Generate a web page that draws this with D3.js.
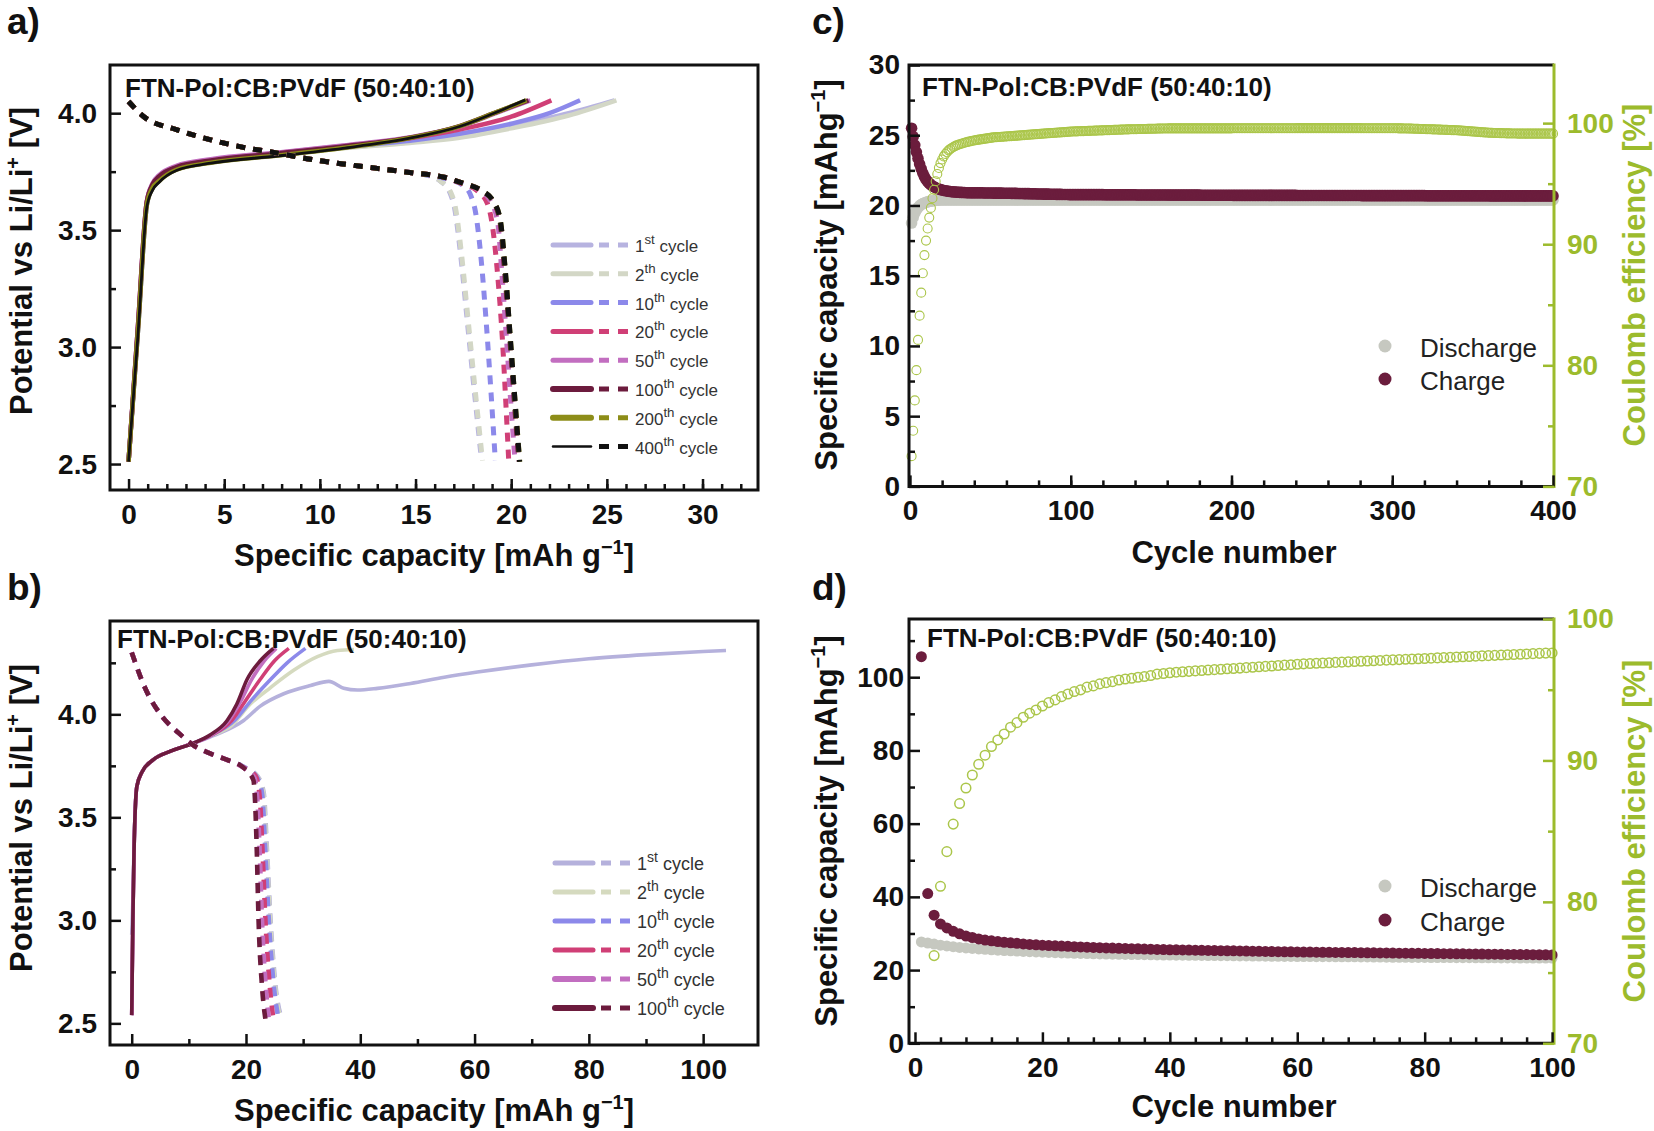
<!DOCTYPE html>
<html>
<head>
<meta charset="utf-8">
<script src="https://cdn.jsdelivr.net/npm/d3@7"></script>
<style>
  body { margin: 0; background: #fff; }
</style>
</head>
<body>
<svg id="fig" width="1654" height="1131"></svg>
<script>
// ---------- panel a / b : cycle legends ----------
const cycleNumA = ["1", "2", "10", "20", "50", "100", "200", "400"];
const cycleSupA = ["st", "th", "th", "th", "th", "th", "th", "th"];
const cycleColA = ["#b7b3e0", "#d3d7c6", "#8c89ea", "#d03f76", "#c26ec0", "#6c1b3d", "#8d8d18", "#111111"];

const cycleNumB = ["1", "2", "10", "20", "50", "100"];
const cycleSupB = ["st", "th", "th", "th", "th", "th"];
const cycleColB = ["#b5b1dc", "#d5dabf", "#8c89ea", "#d03f76", "#c26ec0", "#6c1b3d"];

// ---------- panel a : [capacity, potential] ----------
const chargeA = [
  [[0,2.51],[0.5,3.08],[0.96,3.61],[1.25,3.68],[1.6,3.715],[2.5,3.76],[4.3,3.79],[7.8,3.822],[11.2,3.852],[14.7,3.876],[17.3,3.9],[20,3.945],[23,4.0],[25.4,4.055]],
  [[0,2.51],[0.5,3.08],[0.96,3.61],[1.25,3.68],[1.6,3.715],[2.5,3.76],[4.3,3.79],[7.8,3.822],[11.2,3.85],[14.7,3.873],[17.3,3.895],[20,3.935],[23,3.99],[25.5,4.055]],
  [[0,2.51],[0.5,3.08],[0.96,3.61],[1.25,3.685],[1.6,3.72],[2.5,3.765],[4.3,3.795],[7.8,3.826],[11.2,3.855],[14.7,3.882],[17.3,3.912],[20,3.955],[22,4.0],[23.6,4.055]],
  [[0,2.51],[0.5,3.1],[0.95,3.62],[1.25,3.695],[1.6,3.73],[2.5,3.772],[4.3,3.8],[7.8,3.83],[11.2,3.86],[14.7,3.893],[17.3,3.93],[20,3.985],[22.1,4.055]],
  [[0,2.51],[0.5,3.1],[0.95,3.62],[1.25,3.7],[1.6,3.735],[2.5,3.775],[4.3,3.803],[7.8,3.832],[11.2,3.862],[14.7,3.897],[17.3,3.943],[19.2,4.0],[21.0,4.055]],
  [[0,2.51],[0.5,3.1],[0.95,3.62],[1.25,3.695],[1.6,3.73],[2.5,3.77],[4.3,3.798],[7.8,3.828],[11.2,3.858],[14.7,3.895],[17.3,3.945],[19.1,4.0],[20.9,4.055]],
  [[0,2.51],[0.5,3.08],[0.96,3.61],[1.25,3.68],[1.6,3.71],[2.5,3.758],[4.3,3.788],[7.8,3.819],[11.2,3.851],[14.7,3.894],[17.3,3.944],[19.1,4.0],[20.8,4.055]],
  [[0,2.51],[0.5,3.06],[0.96,3.6],[1.25,3.67],[1.6,3.705],[2.5,3.755],[4.3,3.786],[7.8,3.817],[11.2,3.85],[14.7,3.893],[17.3,3.943],[19.1,4.0],[20.74,4.057]]
];
const dischargeA = [
  [[0,4.05],[0.8,3.985],[2.5,3.93],[4.3,3.886],[6,3.854],[7.8,3.829],[9.5,3.803],[11.2,3.783],[13,3.764],[14.7,3.746],[15.6,3.735],[16.3,3.71],[16.8,3.66],[17.05,3.59],[17.35,3.4],[17.7,3.115],[18.05,2.83],[18.45,2.515]],
  [[0,4.05],[0.8,3.985],[2.5,3.93],[4.3,3.886],[6,3.854],[7.8,3.829],[9.5,3.803],[11.2,3.783],[13,3.764],[14.7,3.746],[15.6,3.735],[16.3,3.71],[16.85,3.66],[17.1,3.59],[17.4,3.4],[17.75,3.115],[18.1,2.83],[18.5,2.515]],
  [[0,4.05],[0.8,3.985],[2.5,3.93],[4.3,3.886],[6,3.854],[7.8,3.829],[9.5,3.803],[11.2,3.783],[13,3.764],[14.7,3.746],[15.8,3.733],[16.8,3.715],[17.5,3.69],[17.9,3.645],[18.15,3.57],[18.4,3.4],[18.7,3.1],[18.95,2.8],[19.17,2.515]],
  [[0,4.05],[0.8,3.985],[2.5,3.93],[4.3,3.886],[6,3.854],[7.8,3.829],[9.5,3.803],[11.2,3.783],[13,3.764],[14.7,3.746],[16.5,3.726],[17.4,3.7],[18.2,3.67],[18.75,3.615],[19.05,3.5],[19.3,3.3],[19.55,3.02],[19.72,2.76],[19.87,2.515]],
  [[0,4.05],[0.8,3.985],[2.5,3.93],[4.3,3.886],[6,3.854],[7.8,3.829],[9.5,3.803],[11.2,3.783],[13,3.764],[14.7,3.746],[16.5,3.726],[17.5,3.7],[18.3,3.672],[18.95,3.62],[19.3,3.53],[19.5,3.33],[19.75,3.04],[19.98,2.76],[20.2,2.515]],
  [[0,4.05],[0.8,3.985],[2.5,3.93],[4.3,3.886],[6,3.854],[7.8,3.829],[9.5,3.803],[11.2,3.783],[13,3.764],[14.7,3.746],[16.5,3.726],[17.5,3.7],[18.4,3.672],[19.05,3.622],[19.4,3.543],[19.65,3.33],[19.92,3.044],[20.17,2.76],[20.4,2.512]],
  [[0,4.05],[0.8,3.985],[2.5,3.93],[4.3,3.886],[6,3.854],[7.8,3.829],[9.5,3.803],[11.2,3.783],[13,3.764],[14.7,3.746],[16.5,3.726],[17.5,3.7],[18.4,3.672],[19.08,3.622],[19.43,3.543],[19.69,3.33],[19.95,3.044],[20.21,2.76],[20.45,2.51]],
  [[0,4.05],[0.8,3.985],[2.5,3.93],[4.3,3.886],[6,3.854],[7.8,3.829],[9.5,3.803],[11.2,3.783],[13,3.764],[14.7,3.746],[16.5,3.726],[17.5,3.7],[18.4,3.672],[19.08,3.622],[19.43,3.543],[19.69,3.33],[19.95,3.044],[20.21,2.76],[20.44,2.51]]
];

// ---------- panel b : [capacity, potential] ----------
const chargeB = [
  [[0,2.93],[0.2,3.1],[0.4,3.35],[0.9,3.65],[1.8,3.72],[3.8,3.78],[6.7,3.82],[10.8,3.86],[13.7,3.89],[15.5,3.91],[19.6,3.97],[22.5,4.04],[26.6,4.1],[31.3,4.14],[34.5,4.16],[37.1,4.127],[39.5,4.118],[43,4.126],[48.8,4.15],[54.7,4.18],[60.5,4.205],[70,4.24],[80,4.27],[90,4.29],[100,4.305],[104,4.31]],
  [[0,2.54],[0.2,3.0],[0.4,3.33],[0.9,3.65],[1.8,3.72],[3.8,3.78],[6.7,3.82],[10.8,3.86],[13.7,3.895],[15.5,3.915],[17.2,3.94],[20.75,4.05],[24.3,4.13],[28.4,4.215],[32.5,4.28],[36,4.31],[38.9,4.315]],
  [[0,2.54],[0.2,3.0],[0.4,3.33],[0.9,3.65],[1.8,3.72],[3.8,3.78],[6.7,3.82],[10.8,3.86],[13.7,3.895],[18,3.97],[21,4.07],[24,4.16],[27.2,4.25],[30.4,4.32]],
  [[0,2.54],[0.2,3.0],[0.4,3.33],[0.9,3.65],[1.8,3.72],[3.8,3.78],[6.7,3.82],[10.8,3.86],[13.7,3.895],[17.5,3.97],[20,4.07],[22.5,4.17],[25,4.26],[27.5,4.32]],
  [[0,2.54],[0.2,3.0],[0.4,3.33],[0.9,3.65],[1.8,3.72],[3.8,3.78],[6.7,3.82],[10.8,3.86],[13.7,3.895],[17,3.97],[19,4.06],[21,4.17],[23.2,4.26],[25.3,4.32]],
  [[0,2.54],[0.2,3.0],[0.4,3.33],[0.9,3.65],[1.8,3.72],[3.8,3.78],[6.7,3.82],[10.8,3.86],[13.7,3.9],[16.7,3.97],[18.4,4.05],[20.2,4.17],[22.5,4.26],[24.8,4.32]]
];
const dischargeB = [
  [[0,4.3],[2.3,4.13],[5.3,3.99],[8.2,3.91],[10.8,3.85],[13.7,3.81],[16.6,3.78],[19.6,3.745],[22,3.7],[23.1,3.62],[23.7,3.325],[24.3,3.0],[25.1,2.7],[26.3,2.52]],
  [[0,4.3],[2.3,4.13],[5.3,3.99],[8.2,3.91],[10.8,3.85],[13.7,3.81],[16.6,3.78],[19.6,3.745],[21.9,3.7],[23,3.62],[23.6,3.33],[24.2,3.0],[25.0,2.7],[26.0,2.52]],
  [[0,4.3],[2.3,4.13],[5.3,3.99],[8.2,3.91],[10.8,3.85],[13.7,3.81],[16.6,3.78],[19.6,3.745],[21.8,3.7],[22.8,3.62],[23.4,3.33],[24.0,3.0],[24.8,2.7],[25.7,2.52]],
  [[0,4.3],[2.3,4.13],[5.3,3.99],[8.2,3.91],[10.8,3.85],[13.7,3.81],[16.6,3.78],[19.6,3.742],[21.7,3.7],[22.4,3.6],[22.9,3.33],[23.4,3.0],[24.1,2.7],[24.8,2.52]],
  [[0,4.3],[2.3,4.13],[5.3,3.99],[8.2,3.91],[10.8,3.85],[13.7,3.81],[16.6,3.78],[19.6,3.74],[21.5,3.69],[22.0,3.58],[22.4,3.33],[22.8,3.0],[23.4,2.7],[24.0,2.52]],
  [[0,4.3],[2.3,4.13],[5.3,3.99],[8.2,3.91],[10.8,3.85],[13.7,3.81],[16.6,3.78],[19.6,3.74],[21.3,3.68],[21.6,3.57],[21.9,3.325],[22.2,3.0],[22.8,2.68],[23.4,2.52]]
];

// ---------- panel c : 400 cycles ----------
const chargeC = [
  25.5,24.9,24.3,23.8,23.35,22.95,22.6,22.3,22.05,21.85,21.7,21.57,21.47,21.39,21.32,21.26,21.21,21.17,21.13,21.1,
  21.07,21.05,21.03,21.01,20.99,20.98,20.97,20.96,20.95,20.94,20.93,20.93,20.92,20.92,20.91,20.91,20.9,20.9,20.9,20.9,
  20.9,20.9,20.9,20.9,20.9,20.89,20.89,20.89,20.89,20.89,20.89,20.88,20.88,20.88,20.88,20.88,20.88,20.87,20.87,20.87,
  20.87,20.87,20.86,20.86,20.86,20.86,20.85,20.85,20.85,20.85,20.84,20.84,20.84,20.84,20.83,20.83,20.83,20.83,20.82,20.82,
  20.82,20.82,20.81,20.81,20.81,20.81,20.8,20.8,20.8,20.8,20.79,20.79,20.79,20.79,20.78,20.78,20.78,20.78,20.77,20.77,
  20.77,20.77,20.77,20.77,20.77,20.77,20.77,20.77,20.77,20.77,20.77,20.77,20.77,20.77,20.77,20.77,20.77,20.77,20.77,20.77,
  20.76,20.76,20.76,20.76,20.76,20.76,20.76,20.76,20.76,20.76,20.76,20.76,20.76,20.76,20.76,20.76,20.76,20.76,20.76,20.76,
  20.75,20.75,20.75,20.75,20.75,20.75,20.75,20.75,20.75,20.75,20.75,20.75,20.75,20.75,20.75,20.75,20.75,20.75,20.75,20.75,
  20.74,20.74,20.74,20.74,20.74,20.74,20.74,20.74,20.74,20.74,20.74,20.74,20.74,20.74,20.74,20.74,20.74,20.74,20.74,20.74,
  20.73,20.73,20.73,20.73,20.73,20.73,20.73,20.73,20.73,20.73,20.73,20.73,20.73,20.73,20.73,20.73,20.73,20.73,20.73,20.73,
  20.72,20.72,20.72,20.72,20.72,20.72,20.72,20.72,20.72,20.72,20.72,20.72,20.72,20.72,20.72,20.72,20.72,20.72,20.72,20.72,
  20.72,20.72,20.72,20.72,20.72,20.72,20.72,20.72,20.72,20.72,20.72,20.72,20.72,20.72,20.72,20.72,20.72,20.72,20.72,20.72,
  20.71,20.71,20.71,20.71,20.71,20.71,20.71,20.71,20.71,20.71,20.71,20.71,20.71,20.71,20.71,20.71,20.71,20.71,20.71,20.71,
  20.71,20.71,20.71,20.71,20.71,20.71,20.71,20.71,20.71,20.71,20.71,20.71,20.71,20.71,20.71,20.71,20.71,20.71,20.71,20.71,
  20.7,20.7,20.7,20.7,20.7,20.7,20.7,20.7,20.7,20.7,20.7,20.7,20.7,20.7,20.7,20.7,20.7,20.7,20.7,20.7,
  20.7,20.7,20.7,20.7,20.7,20.7,20.7,20.7,20.7,20.7,20.7,20.7,20.7,20.7,20.7,20.7,20.7,20.7,20.7,20.7,
  20.69,20.69,20.69,20.69,20.69,20.69,20.69,20.69,20.69,20.69,20.69,20.69,20.69,20.69,20.69,20.69,20.69,20.69,20.69,20.69,
  20.69,20.69,20.69,20.69,20.69,20.69,20.69,20.69,20.69,20.69,20.69,20.69,20.69,20.69,20.69,20.69,20.69,20.69,20.69,20.69,
  20.68,20.68,20.68,20.68,20.68,20.68,20.68,20.68,20.68,20.68,20.68,20.68,20.68,20.68,20.68,20.68,20.68,20.68,20.68,20.68,
  20.68,20.68,20.68,20.68,20.68,20.68,20.68,20.68,20.68,20.68,20.68,20.68,20.68,20.68,20.68,20.68,20.68,20.68,20.68,20.68
];
const dischargeC = [
  18.75,19.15,19.45,19.68,19.85,19.97,20.06,20.13,20.18,20.22,20.26,20.29,20.31,20.33,20.35,20.36,20.37,20.38,20.39,20.4,
  20.4,20.4,20.4,20.4,20.4,20.4,20.4,20.4,20.4,20.4,20.4,20.4,20.4,20.4,20.4,20.4,20.4,20.4,20.4,20.4,
  20.4,20.4,20.4,20.4,20.4,20.4,20.4,20.4,20.4,20.4,20.4,20.4,20.4,20.4,20.4,20.4,20.4,20.4,20.4,20.4,
  20.4,20.4,20.4,20.4,20.4,20.4,20.4,20.4,20.4,20.4,20.4,20.4,20.4,20.4,20.4,20.4,20.4,20.4,20.4,20.4,
  20.4,20.4,20.4,20.4,20.4,20.4,20.4,20.4,20.4,20.4,20.4,20.4,20.4,20.4,20.4,20.4,20.4,20.4,20.4,20.4,
  20.4,20.4,20.4,20.4,20.4,20.4,20.4,20.4,20.4,20.4,20.4,20.4,20.4,20.4,20.4,20.4,20.4,20.4,20.4,20.4,
  20.4,20.4,20.4,20.4,20.4,20.4,20.4,20.4,20.4,20.4,20.4,20.4,20.4,20.4,20.4,20.4,20.4,20.4,20.4,20.4,
  20.4,20.4,20.4,20.4,20.4,20.4,20.4,20.4,20.4,20.4,20.4,20.4,20.4,20.4,20.4,20.4,20.4,20.4,20.4,20.4,
  20.4,20.4,20.4,20.4,20.4,20.4,20.4,20.4,20.4,20.4,20.4,20.4,20.4,20.4,20.4,20.4,20.4,20.4,20.4,20.4,
  20.4,20.4,20.4,20.4,20.4,20.4,20.4,20.4,20.4,20.4,20.4,20.4,20.4,20.4,20.4,20.4,20.4,20.4,20.4,20.4,
  20.39,20.39,20.39,20.39,20.39,20.39,20.39,20.39,20.39,20.39,20.39,20.39,20.39,20.39,20.39,20.39,20.39,20.39,20.39,20.39,
  20.39,20.39,20.39,20.39,20.39,20.39,20.39,20.39,20.39,20.39,20.39,20.39,20.39,20.39,20.39,20.39,20.39,20.39,20.39,20.39,
  20.39,20.39,20.39,20.39,20.39,20.39,20.39,20.39,20.39,20.39,20.39,20.39,20.39,20.39,20.39,20.39,20.39,20.39,20.39,20.39,
  20.39,20.39,20.39,20.39,20.39,20.39,20.39,20.39,20.39,20.39,20.39,20.39,20.39,20.39,20.39,20.39,20.39,20.39,20.39,20.39,
  20.39,20.39,20.39,20.39,20.39,20.39,20.39,20.39,20.39,20.39,20.39,20.39,20.39,20.39,20.39,20.39,20.39,20.39,20.39,20.39,
  20.39,20.39,20.39,20.39,20.39,20.39,20.39,20.39,20.39,20.39,20.39,20.39,20.39,20.39,20.39,20.39,20.39,20.39,20.39,20.39,
  20.39,20.39,20.39,20.39,20.39,20.39,20.39,20.39,20.39,20.39,20.39,20.39,20.39,20.39,20.39,20.39,20.39,20.39,20.39,20.39,
  20.39,20.39,20.39,20.39,20.39,20.39,20.39,20.39,20.39,20.39,20.39,20.39,20.39,20.39,20.39,20.39,20.39,20.39,20.39,20.39,
  20.39,20.39,20.39,20.39,20.39,20.39,20.39,20.39,20.39,20.39,20.39,20.39,20.39,20.39,20.39,20.39,20.39,20.39,20.39,20.39,
  20.39,20.39,20.39,20.39,20.39,20.39,20.39,20.39,20.39,20.39,20.39,20.39,20.39,20.39,20.39,20.39,20.39,20.39,20.39,20.39
];
const ceC = [
  72.5,74.6,77.1,79.6,82.1,84.1,86.0,87.6,89.1,90.3,91.3,92.2,93.0,93.8,94.5,95.2,95.8,96.3,96.7,97.0,
  97.25,97.45,97.6,97.75,97.85,97.95,98.03,98.1,98.16,98.21,98.26,98.3,98.34,98.38,98.42,98.45,98.48,98.51,98.54,98.57,
  98.6,98.62,98.64,98.66,98.68,98.7,98.72,98.74,98.76,98.78,98.8,98.82,98.83,98.84,98.85,98.86,98.87,98.88,98.89,98.9,
  98.91,98.92,98.93,98.94,98.95,98.96,98.97,98.98,98.99,99.0,99.01,99.02,99.03,99.04,99.05,99.06,99.07,99.08,99.09,99.1,
  99.11,99.12,99.13,99.14,99.15,99.16,99.17,99.18,99.19,99.2,99.21,99.22,99.23,99.24,99.25,99.26,99.27,99.28,99.29,99.3,
  99.31,99.31,99.32,99.32,99.33,99.33,99.34,99.34,99.35,99.35,99.36,99.36,99.37,99.37,99.38,99.38,99.39,99.39,99.4,99.4,
  99.41,99.41,99.42,99.42,99.43,99.43,99.44,99.44,99.45,99.45,99.46,99.46,99.47,99.47,99.48,99.48,99.49,99.49,99.5,99.5,
  99.5,99.51,99.51,99.51,99.52,99.52,99.52,99.53,99.53,99.53,99.54,99.54,99.54,99.55,99.55,99.55,99.56,99.56,99.56,99.56,
  99.57,99.57,99.57,99.57,99.57,99.57,99.57,99.57,99.57,99.57,99.57,99.57,99.57,99.57,99.57,99.57,99.57,99.57,99.57,99.57,
  99.57,99.57,99.57,99.57,99.57,99.57,99.57,99.57,99.57,99.57,99.57,99.57,99.57,99.57,99.57,99.57,99.57,99.57,99.57,99.57,
  99.58,99.58,99.58,99.58,99.58,99.58,99.58,99.58,99.58,99.58,99.58,99.58,99.58,99.58,99.58,99.58,99.58,99.58,99.58,99.58,
  99.58,99.58,99.58,99.58,99.58,99.58,99.58,99.58,99.58,99.58,99.58,99.58,99.58,99.58,99.58,99.58,99.58,99.58,99.58,99.58,
  99.59,99.59,99.59,99.59,99.59,99.59,99.59,99.59,99.59,99.59,99.59,99.59,99.59,99.59,99.59,99.59,99.59,99.59,99.59,99.59,
  99.59,99.59,99.59,99.59,99.59,99.59,99.59,99.59,99.59,99.59,99.59,99.59,99.59,99.59,99.59,99.59,99.59,99.59,99.59,99.59,
  99.58,99.58,99.58,99.58,99.58,99.58,99.58,99.58,99.58,99.58,99.58,99.58,99.58,99.58,99.58,99.58,99.58,99.58,99.58,99.58,
  99.58,99.58,99.58,99.57,99.57,99.57,99.56,99.56,99.56,99.55,99.55,99.55,99.54,99.54,99.53,99.53,99.52,99.52,99.51,99.51,
  99.5,99.5,99.49,99.49,99.48,99.48,99.47,99.47,99.46,99.46,99.45,99.45,99.44,99.44,99.43,99.43,99.42,99.42,99.41,99.41,
  99.4,99.39,99.38,99.37,99.36,99.35,99.34,99.33,99.32,99.31,99.3,99.29,99.28,99.27,99.26,99.25,99.24,99.23,99.22,99.21,
  99.2,99.2,99.19,99.19,99.18,99.18,99.17,99.17,99.16,99.16,99.15,99.15,99.15,99.14,99.14,99.14,99.14,99.13,99.13,99.13,
  99.13,99.13,99.13,99.13,99.13,99.13,99.13,99.13,99.13,99.13,99.13,99.13,99.13,99.13,99.13,99.13,99.13,99.13,99.13,99.13
];

// ---------- panel d : 100 cycles ----------
const chargeD = [
  105.6,40.9,35.0,32.6,31.5,30.6,29.9,29.3,28.9,28.5,28.2,28.0,27.8,27.6,27.45,27.3,27.15,27.0,26.9,26.8,
  26.7,26.62,26.55,26.48,26.4,26.33,26.26,26.2,26.12,26.05,26.0,25.95,25.9,25.85,25.8,25.75,25.7,25.65,25.6,25.55,
  25.52,25.49,25.46,25.43,25.4,25.37,25.34,25.31,25.28,25.25,25.22,25.19,25.16,25.13,25.1,25.07,25.04,25.01,24.98,24.95,
  24.93,24.91,24.89,24.87,24.85,24.83,24.81,24.79,24.77,24.75,24.73,24.71,24.69,24.67,24.65,24.63,24.61,24.59,24.57,24.55,
  24.53,24.51,24.49,24.47,24.45,24.43,24.41,24.39,24.37,24.35,24.33,24.31,24.29,24.27,24.25,24.23,24.21,24.19,24.17,24.15
];
const dischargeD = [
  27.7,27.4,27.1,26.8,26.6,26.4,26.2,26.05,25.9,25.78,25.66,25.55,25.45,25.35,25.26,25.18,25.1,25.02,24.95,24.88,
  24.81,24.75,24.7,24.65,24.6,24.55,24.5,24.46,24.42,24.38,24.35,24.32,24.29,24.26,24.23,24.2,24.17,24.14,24.12,24.1,
  24.08,24.06,24.04,24.02,24.0,23.98,23.96,23.94,23.92,23.9,23.88,23.86,23.84,23.82,23.8,23.78,23.76,23.74,23.72,23.7,
  23.69,23.68,23.67,23.66,23.65,23.64,23.63,23.62,23.61,23.6,23.58,23.56,23.54,23.52,23.5,23.49,23.48,23.47,23.46,23.45,
  23.44,23.43,23.42,23.41,23.4,23.39,23.38,23.37,23.36,23.35,23.34,23.33,23.32,23.31,23.3,23.3,23.3,23.3,23.3,23.3
];
// cycles 1 and 2 lie below 70 % and are off the chart
const ceD = [
  null,null,76.2,81.1,83.55,85.5,86.95,88.05,88.97,89.73,90.37,90.98,91.45,91.87,92.35,92.67,93.05,93.34,93.57,93.85,
  94.09,94.28,94.51,94.7,94.87,94.99,95.18,95.27,95.41,95.5,95.57,95.69,95.76,95.81,95.88,95.93,96.0,96.1,96.15,96.2,
  96.24,96.27,96.3,96.33,96.36,96.39,96.42,96.45,96.48,96.5,96.53,96.56,96.59,96.62,96.65,96.68,96.71,96.74,96.77,96.8,
  96.83,96.85,96.87,96.89,96.91,96.93,96.95,96.97,96.99,97.01,97.03,97.05,97.07,97.09,97.11,97.13,97.15,97.17,97.19,97.21,
  97.23,97.25,97.27,97.29,97.31,97.33,97.35,97.37,97.39,97.41,97.43,97.45,97.47,97.49,97.51,97.53,97.55,97.57,97.59,97.6
];

// ---------- tick labels ----------
const ticksAx = [0, 5, 10, 15, 20, 25, 30];
const ticksV = [2.5, 3.0, 3.5, 4.0];
const ticksBx = [0, 20, 40, 60, 80, 100];
const ticksCx = [0, 100, 200, 300, 400];
const ticksCy = [0, 5, 10, 15, 20, 25, 30];
const ticksDx = [0, 20, 40, 60, 80, 100];
const ticksDy = [0, 20, 40, 60, 80, 100];
const ticksCE = [70, 80, 90, 100];

const FONT = "'Liberation Sans', Arial, Helvetica, sans-serif";
const GREEN = "#9cbb2c";
const CE_COL = "#abc64a";
const CHARGE_COL = "#6b1d3d";
const DISCH_COL = "#c6c8c0";

const svg = d3.select("#fig").attr("font-family", FONT);

// inward ticks: long majors with labels, short minors
function inwardAxis(axisGen, scale, pos, majors, minors, pad, color, fmt) {
  const minor = svg.append("g").attr("transform", pos)
    .call(axisGen(scale).tickValues(minors).tickSize(-6).tickFormat(""));
  const major = svg.append("g").attr("transform", pos)
    .call(axisGen(scale).tickValues(majors).tickSize(-11).tickPadding(pad).tickFormat(fmt));
  [minor, major].forEach(a => {
    a.select(".domain").remove();
    a.selectAll("line").attr("stroke", color).attr("stroke-width", 2.5);
  });
  major.attr("font-family", FONT).attr("font-size", 28).attr("font-weight", "bold");
  major.selectAll("text").attr("fill", color);
}

function panelLabel(x, y, t) {
  svg.append("text").attr("x", x).attr("y", y).attr("font-size", 37)
    .attr("font-weight", "bold").attr("fill", "#111").text(t);
}

function note(x, y) {
  svg.append("text").attr("x", x).attr("y", y).attr("font-size", 26)
    .attr("font-weight", "bold").attr("fill", "#111").text("FTN-Pol:CB:PVdF (50:40:10)");
}

function capTitle(t, gap) {
  t.append("tspan").text("Specific capacity [mAh" + gap + "g");
  t.append("tspan").attr("dy", -12).attr("font-size", 20).text("\u22121");
  t.append("tspan").attr("dy", 12).text("]");
}

function xTitle(cx, y, fill, build) {
  const t = svg.append("text").attr("x", cx).attr("y", y).attr("text-anchor", "middle")
    .attr("font-size", 31).attr("font-weight", "bold").attr("fill", fill);
  build(t);
}

function yTitle(x, cy, fill, build) {
  const t = svg.append("text").attr("transform", `translate(${x},${cy}) rotate(-90)`)
    .attr("text-anchor", "middle").attr("font-size", 31).attr("font-weight", "bold").attr("fill", fill);
  build(t);
}

function potTitle(t) {
  t.append("tspan").text("Potential vs Li/Li");
  t.append("tspan").attr("dy", -12).attr("font-size", 20).text("+");
  t.append("tspan").attr("dy", 12).text(" [V]");
}

function cycleLegend(x0, y0, dy, fs, nums, sups, cols, solidW) {
  nums.forEach((n, i) => {
    const y = y0 + i * dy;
    svg.append("line").attr("x1", x0).attr("x2", x0 + 38).attr("y1", y).attr("y2", y)
      .attr("stroke", cols[i]).attr("stroke-width", solidW[i]).attr("stroke-linecap", "round");
    svg.append("line").attr("x1", x0 + 46).attr("x2", x0 + 76).attr("y1", y).attr("y2", y)
      .attr("stroke", cols[i]).attr("stroke-width", 5).attr("stroke-dasharray", "10,9");
    const t = svg.append("text").attr("x", x0 + 82).attr("y", y + 7)
      .attr("font-size", fs).attr("fill", "#333");
    t.append("tspan").text(n);
    t.append("tspan").attr("dy", -8).attr("font-size", fs * 0.78).text(sups[i]);
    t.append("tspan").attr("dy", 8).text(" cycle");
  });
}

// ================= panel a =================
const xA = d3.scaleLinear().domain([-0.97, 32.9]).range([110, 758]);
const yA = d3.scaleLinear().domain([2.389, 4.206]).range([490, 65]);
const lineA = d3.line().x(d => xA(d[0])).y(d => yA(d[1])).curve(d3.curveMonotoneX);

chargeA.forEach((c, i) => {
  svg.append("path").attr("d", lineA(c)).attr("fill", "none")
    .attr("stroke", cycleColA[i]).attr("stroke-width", i === 7 ? 2.8 : 4.5);
});
dischargeA.forEach((c, i) => {
  svg.append("path").attr("d", lineA(c)).attr("fill", "none")
    .attr("stroke", cycleColA[i]).attr("stroke-width", 5).attr("stroke-dasharray", "9,8");
});

svg.append("rect").attr("x", 110).attr("y", 65).attr("width", 648).attr("height", 425)
  .attr("fill", "none").attr("stroke", "#111").attr("stroke-width", 3);
inwardAxis(d3.axisBottom, xA, "translate(0,490)", ticksAx, d3.range(1, 33), 14, "#111", d3.format("d"));
inwardAxis(d3.axisLeft, yA, "translate(110,0)", ticksV, [2.75, 3.25, 3.75], 13, "#111", d3.format(".1f"));
xTitle(434, 566, "#111", t => capTitle(t, " "));
yTitle(32, 261, "#111", potTitle);
note(125, 97);
cycleLegend(553, 245, 28.8, 17, cycleNumA, cycleSupA, cycleColA, [5, 5, 5, 5, 5, 6, 6, 2.5]);
panelLabel(7, 34, "a)");

// ================= panel b =================
const xB = d3.scaleLinear().domain([-3.8, 109.6]).range([110, 758]);
const yB = d3.scaleLinear().domain([2.395, 4.453]).range([1045, 621]);
const lineB = d3.line().x(d => xB(d[0])).y(d => yB(d[1])).curve(d3.curveMonotoneX);

chargeB.forEach((c, i) => {
  svg.append("path").attr("d", lineB(c)).attr("fill", "none")
    .attr("stroke", cycleColB[i]).attr("stroke-width", 3.6);
});
dischargeB.forEach((c, i) => {
  svg.append("path").attr("d", lineB(c)).attr("fill", "none")
    .attr("stroke", cycleColB[i]).attr("stroke-width", 4.6).attr("stroke-dasharray", "10,8");
});

svg.append("rect").attr("x", 110).attr("y", 621).attr("width", 648).attr("height", 424)
  .attr("fill", "none").attr("stroke", "#111").attr("stroke-width", 3);
inwardAxis(d3.axisBottom, xB, "translate(0,1045)", ticksBx, [10, 30, 50, 70, 90], 14, "#111", d3.format("d"));
inwardAxis(d3.axisLeft, yB, "translate(110,0)", ticksV, [2.75, 3.25, 3.75, 4.25], 13, "#111", d3.format(".1f"));
xTitle(434, 1121, "#111", t => capTitle(t, " "));
yTitle(32, 818, "#111", potTitle);
note(117, 648);
cycleLegend(555, 863, 29, 18, cycleNumB, cycleSupB, cycleColB, [5, 5, 5, 5, 6, 6]);
panelLabel(7, 600, "b)");

// ================= cycling panels =================
function cyclingPanel(cfg) {
  const { x, y, y2, top, bottom, charge, discharge, ce, rCap, rCe, ceW } = cfg;
  svg.append("g").selectAll("circle").data(discharge).join("circle")
    .attr("cx", (d, i) => x(i + 1)).attr("cy", d => y(d)).attr("r", rCap).attr("fill", DISCH_COL);
  svg.append("g").selectAll("circle").data(charge).join("circle")
    .attr("cx", (d, i) => x(i + 1)).attr("cy", d => y(d)).attr("r", rCap).attr("fill", CHARGE_COL);
  svg.append("g").selectAll("circle")
    .data(ce.map((v, i) => [i + 1, v]).filter(d => d[1] !== null)).join("circle")
    .attr("cx", d => x(d[0])).attr("cy", d => y2(d[1])).attr("r", rCe)
    .attr("fill", "none").attr("stroke", CE_COL).attr("stroke-width", ceW);

  const l = x.range()[0], r = x.range()[1];
  svg.append("path").attr("d", `M${r},${top}H${l}V${bottom}H${r}`)
    .attr("fill", "none").attr("stroke", "#111").attr("stroke-width", 3);
  svg.append("line").attr("x1", r).attr("x2", r).attr("y1", top - 1.5).attr("y2", bottom + 1.5)
    .attr("stroke", GREEN).attr("stroke-width", 3);
}

function capLegend(x, yDis, yCh) {
  [[yDis, DISCH_COL, "Discharge"], [yCh, CHARGE_COL, "Charge"]].forEach(([yy, col, txt]) => {
    svg.append("circle").attr("cx", x).attr("cy", yy).attr("r", 6.5).attr("fill", col);
    svg.append("text").attr("x", x + 35).attr("y", yy + 11).attr("font-size", 26)
      .attr("fill", "#222").text(txt);
  });
}

// ================= panel c =================
const xC = d3.scaleLinear().domain([-0.6, 400.6]).range([909, 1554]);
const yC = d3.scaleLinear().domain([0, 30]).range([486.4, 65]);
const yC2 = d3.scaleLinear().domain([70, 104.8]).range([486.4, 65]);
cyclingPanel({ x: xC, y: yC, y2: yC2, top: 65, bottom: 486.4,
  charge: chargeC, discharge: dischargeC, ce: ceC, rCap: 5.8, rCe: 4.5, ceW: 1.1 });
inwardAxis(d3.axisBottom, xC, "translate(0,486.4)", ticksCx, d3.range(20, 400, 20), 14, "#111", d3.format("d"));
inwardAxis(d3.axisLeft, yC, "translate(909,0)", ticksCy, [2.5, 7.5, 12.5, 17.5, 22.5, 27.5], 9, "#111", d3.format("d"));
inwardAxis(d3.axisRight, yC2, "translate(1554,0)", ticksCE, [75, 85, 95], 13, GREEN, d3.format("d"));
xTitle(1234, 563, "#111", t => t.text("Cycle number"));
yTitle(837, 275, "#111", t => capTitle(t, ""));
yTitle(1645, 275, GREEN, t => t.text("Coulomb efficiency [%]"));
note(922, 96);
capLegend(1385, 346, 379);
panelLabel(812, 34, "c)");

// ================= panel d =================
const xD = d3.scaleLinear().domain([-0.94, 100.3]).range([909, 1554]);
const yD = d3.scaleLinear().domain([0, 115.9]).range([1043.3, 619]);
const yD2 = d3.scaleLinear().domain([70, 100]).range([1043.3, 619]);
cyclingPanel({ x: xD, y: yD, y2: yD2, top: 619, bottom: 1043.3,
  charge: chargeD, discharge: dischargeD, ce: ceD, rCap: 5.5, rCe: 4.8, ceW: 1.5 });
inwardAxis(d3.axisBottom, xD, "translate(0,1043.3)", ticksDx, d3.range(4, 100, 4).filter(v => v % 20), 14, "#111", d3.format("d"));
inwardAxis(d3.axisLeft, yD, "translate(909,0)", ticksDy, [10, 30, 50, 70, 90, 110], 5, "#111", d3.format("d"));
inwardAxis(d3.axisRight, yD2, "translate(1554,0)", ticksCE, [75, 85, 95], 13, GREEN, d3.format("d"));
xTitle(1234, 1117, "#111", t => t.text("Cycle number"));
yTitle(837, 831, "#111", t => capTitle(t, ""));
yTitle(1645, 831, GREEN, t => t.text("Coulomb efficiency [%]"));
note(927, 647);
capLegend(1385, 886, 920);
panelLabel(812, 600, "d)");
</script>
</body>
</html>
